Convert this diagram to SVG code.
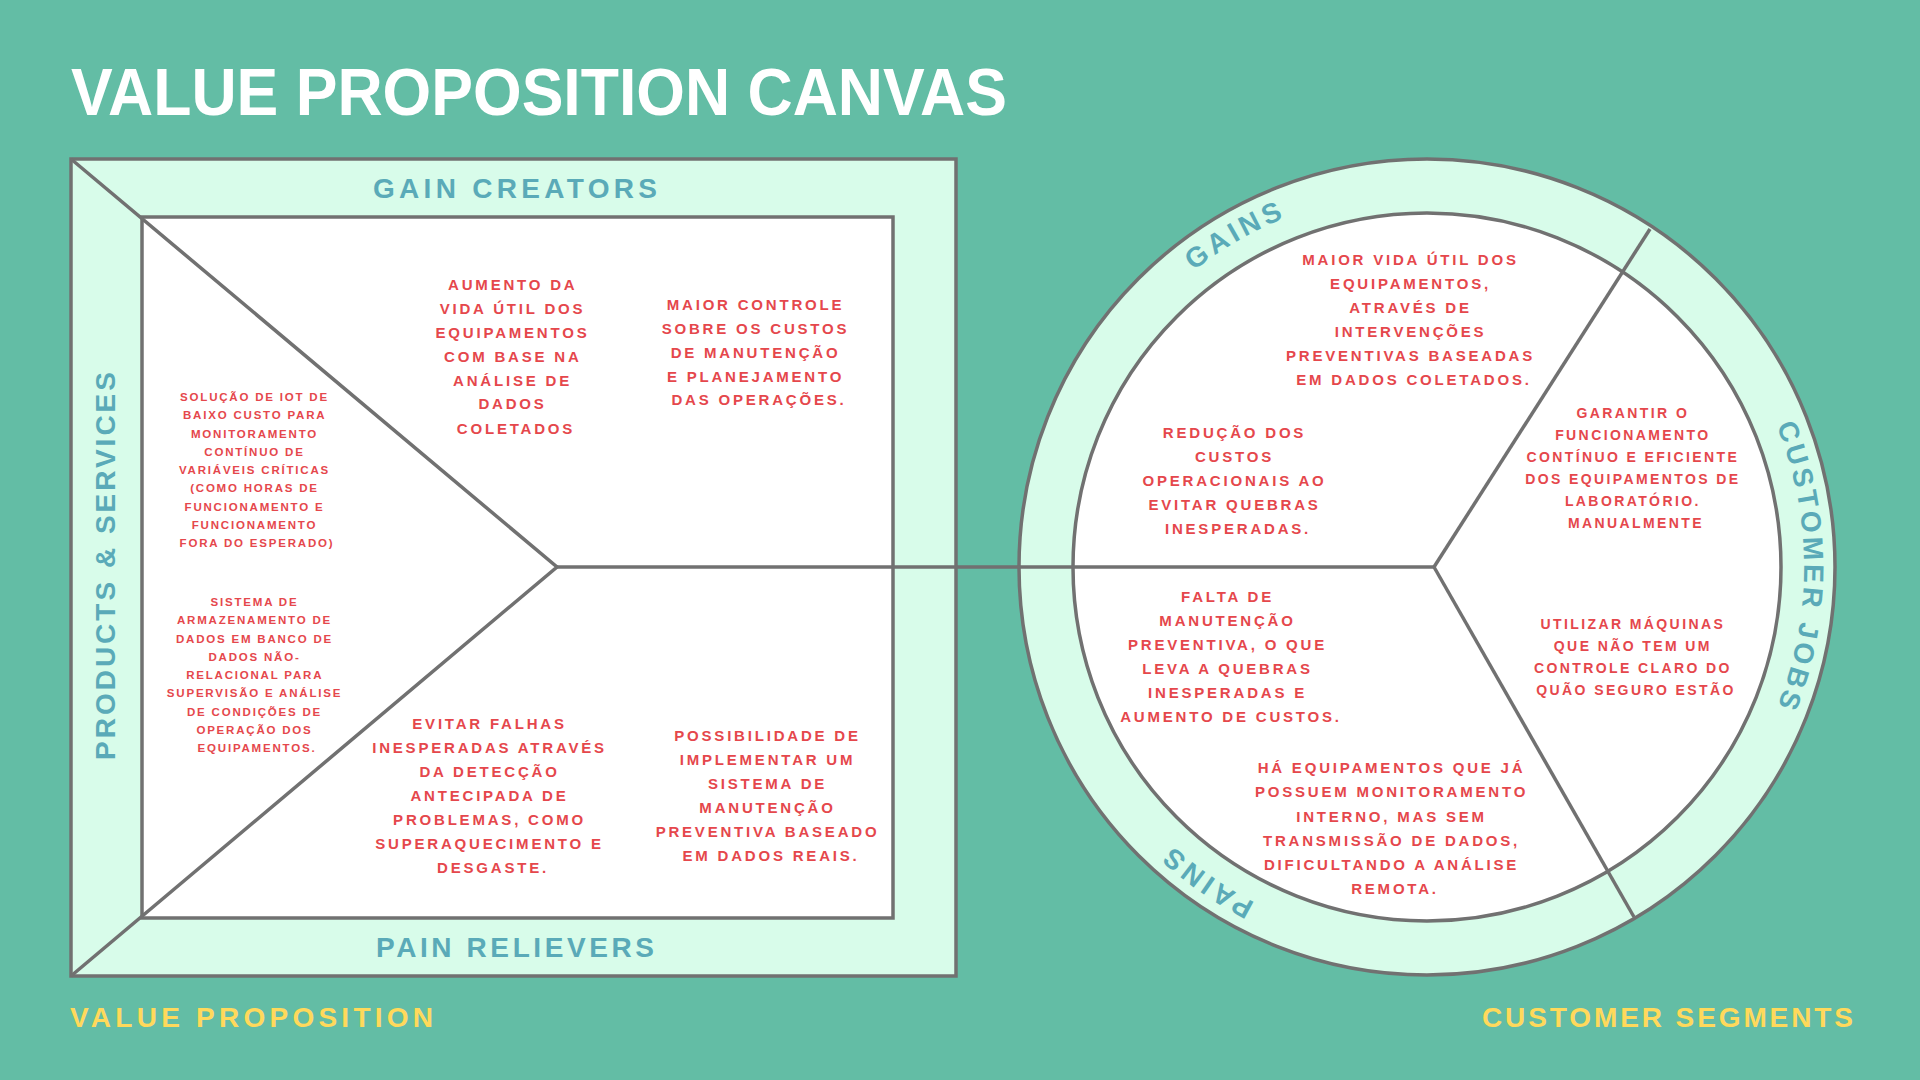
<svg xmlns="http://www.w3.org/2000/svg" width="1920" height="1080" viewBox="0 0 1920 1080">
<style>
.ln{fill:none;stroke:#717171;stroke-width:3.5}
.band{fill:#D8FCEA;stroke:#717171;stroke-width:3.5}
.inner{fill:#FFFFFF;stroke:#717171;stroke-width:3.5}
.lbl{font-family:"Liberation Sans",Arial,sans-serif;font-weight:bold;fill:#5AAAB8;font-size:28px}
.yel{font-family:"Liberation Sans",Arial,sans-serif;font-weight:bold;fill:#FFD95B;font-size:28px}
.red{font-family:"Liberation Sans",Arial,sans-serif;font-weight:bold;fill:#E5474C;font-size:15px;letter-spacing:2.8px;text-anchor:middle}
.sm{font-size:11.5px;letter-spacing:1.8px}
.md{font-size:14px;letter-spacing:2.4px}
</style>
<defs>
<path id="arcGains" d="M 1050 567 A 377 377 0 0 1 1615.5 240.5"/>
<path id="arcJobs" d="M 1615.5 240.5 A 377 377 0 0 1 1615.5 893.5"/>
<path id="arcPains" d="M 1586.3 908.7 A 377 377 0 0 1 1051.4 534.1"/>
</defs>
<rect x="0" y="0" width="1920" height="1080" fill="#63BDA5"/>

<g id="title">
<text x="71" y="115" font-family="'Liberation Sans',Arial,sans-serif" font-weight="bold" font-size="67" fill="#FFFFFF" textLength="936" lengthAdjust="spacingAndGlyphs">VALUE PROPOSITION CANVAS</text>
</g>

<g id="value-proposition-square">
<rect class="band" x="71" y="159" width="885" height="817"/>
<rect class="inner" x="142" y="217" width="751" height="701"/>
</g>

<g id="circle-customer-segment">
<circle class="band" cx="1427" cy="567" r="408"/>
<circle class="inner" cx="1427" cy="567" r="354"/>
</g>

<g id="connectors">
<polyline class="ln" points="71,159 557,567 71,976"/>
<line class="ln" x1="557" y1="567" x2="1434" y2="567"/>
<line class="ln" x1="1434" y1="567" x2="1650" y2="229"/>
<line class="ln" x1="1434" y1="567" x2="1634" y2="917"/>
</g>

<g id="gain-creators-label">
<text class="lbl" x="373" y="198" textLength="284" lengthAdjust="spacing">GAIN CREATORS</text>
</g>
<g id="pain-relievers-label">
<text class="lbl" x="376" y="957" textLength="278" lengthAdjust="spacing">PAIN RELIEVERS</text>
</g>
<g id="products-services-label">
<text class="lbl" transform="translate(115,760) rotate(-90)" x="0" y="0" font-size="30" textLength="388" lengthAdjust="spacing">PRODUCTS &amp; SERVICES</text>
</g>
<g id="value-proposition-label">
<text class="yel" x="70" y="1027" textLength="363" lengthAdjust="spacing">VALUE PROPOSITION</text>
</g>
<g id="customer-segments-label">
<text class="yel" x="1482" y="1027" textLength="371" lengthAdjust="spacing">CUSTOMER SEGMENTS</text>
</g>

<g id="gains-label">
<text class="lbl" letter-spacing="4"><textPath href="#arcGains" startOffset="50%" text-anchor="middle">GAINS</textPath></text>
</g>
<g id="customer-jobs-label">
<text class="lbl" letter-spacing="3.6"><textPath href="#arcJobs" startOffset="50%" text-anchor="middle">CUSTOMER JOBS</textPath></text>
</g>
<g id="pains-label">
<text class="lbl" letter-spacing="4"><textPath href="#arcPains" startOffset="50%" text-anchor="middle">PAINS</textPath></text>
</g>

<g id="product-iot">
<text class="red sm">
<tspan x="257" y="401">SOLUÇÃO DE IOT DE</tspan>
<tspan x="257" y="419.25">BAIXO CUSTO PARA</tspan>
<tspan x="257" y="437.5">MONITORAMENTO</tspan>
<tspan x="257" y="455.75">CONTÍNUO DE</tspan>
<tspan x="257" y="474">VARIÁVEIS CRÍTICAS</tspan>
<tspan x="257" y="492.25">(COMO HORAS DE</tspan>
<tspan x="257" y="510.5">FUNCIONAMENTO E</tspan>
<tspan x="257" y="528.75">FUNCIONAMENTO</tspan>
<tspan x="257" y="547">FORA DO ESPERADO)</tspan>
</text>
</g>
<g id="product-database">
<text class="red sm">
<tspan x="257" y="606">SISTEMA DE</tspan>
<tspan x="257" y="624.25">ARMAZENAMENTO DE</tspan>
<tspan x="257" y="642.5">DADOS EM BANCO DE</tspan>
<tspan x="257" y="660.75">DADOS NÃO-</tspan>
<tspan x="257" y="679">RELACIONAL PARA</tspan>
<tspan x="257" y="697.25">SUPERVISÃO E ANÁLISE</tspan>
<tspan x="257" y="715.5">DE CONDIÇÕES DE</tspan>
<tspan x="257" y="733.75">OPERAÇÃO DOS</tspan>
<tspan x="257" y="752">EQUIPAMENTOS.</tspan>
</text>
</g>

<g id="gain-creator-1">
<text class="red">
<tspan x="516" y="290">AUMENTO DA</tspan>
<tspan x="516" y="314">VIDA ÚTIL DOS</tspan>
<tspan x="516" y="337.5">EQUIPAMENTOS</tspan>
<tspan x="516" y="361.5">COM BASE NA</tspan>
<tspan x="516" y="385.5">ANÁLISE DE</tspan>
<tspan x="516" y="409">DADOS</tspan>
<tspan x="516" y="433.5">COLETADOS</tspan>
</text>
</g>
<g id="gain-creator-2">
<text class="red">
<tspan x="759" y="310">MAIOR CONTROLE</tspan>
<tspan x="759" y="333.5">SOBRE OS CUSTOS</tspan>
<tspan x="759" y="357.5">DE MANUTENÇÃO</tspan>
<tspan x="759" y="381.5">E PLANEJAMENTO</tspan>
<tspan x="759" y="405">DAS OPERAÇÕES.</tspan>
</text>
</g>
<g id="pain-reliever-1">
<text class="red">
<tspan x="493" y="729">EVITAR FALHAS</tspan>
<tspan x="493" y="752.5">INESPERADAS ATRAVÉS</tspan>
<tspan x="493" y="776.5">DA DETECÇÃO</tspan>
<tspan x="493" y="800.5">ANTECIPADA DE</tspan>
<tspan x="493" y="824.5">PROBLEMAS, COMO</tspan>
<tspan x="493" y="848.5">SUPERAQUECIMENTO E</tspan>
<tspan x="493" y="872.5">DESGASTE.</tspan>
</text>
</g>
<g id="pain-reliever-2">
<text class="red">
<tspan x="771" y="741">POSSIBILIDADE DE</tspan>
<tspan x="771" y="765">IMPLEMENTAR UM</tspan>
<tspan x="771" y="788.5">SISTEMA DE</tspan>
<tspan x="771" y="812.5">MANUTENÇÃO</tspan>
<tspan x="771" y="836.5">PREVENTIVA BASEADO</tspan>
<tspan x="771" y="860.5">EM DADOS REAIS.</tspan>
</text>
</g>

<g id="gain-1">
<text class="red">
<tspan x="1414" y="265">MAIOR VIDA ÚTIL DOS</tspan>
<tspan x="1414" y="289">EQUIPAMENTOS,</tspan>
<tspan x="1414" y="313">ATRAVÉS DE</tspan>
<tspan x="1414" y="337">INTERVENÇÕES</tspan>
<tspan x="1414" y="361">PREVENTIVAS BASEADAS</tspan>
<tspan x="1414" y="385">EM DADOS COLETADOS.</tspan>
</text>
</g>
<g id="gain-2">
<text class="red">
<tspan x="1238" y="438">REDUÇÃO DOS</tspan>
<tspan x="1238" y="462">CUSTOS</tspan>
<tspan x="1238" y="486">OPERACIONAIS AO</tspan>
<tspan x="1238" y="510">EVITAR QUEBRAS</tspan>
<tspan x="1238" y="534">INESPERADAS.</tspan>
</text>
</g>
<g id="job-1">
<text class="red md">
<tspan x="1636" y="418">GARANTIR O</tspan>
<tspan x="1636" y="440">FUNCIONAMENTO</tspan>
<tspan x="1636" y="462">CONTÍNUO E EFICIENTE</tspan>
<tspan x="1636" y="484">DOS EQUIPAMENTOS DE</tspan>
<tspan x="1636" y="506">LABORATÓRIO.</tspan>
<tspan x="1636" y="528">MANUALMENTE</tspan>
</text>
</g>
<g id="job-2">
<text class="red md">
<tspan x="1636" y="629">UTILIZAR MÁQUINAS</tspan>
<tspan x="1636" y="651">QUE NÃO TEM UM</tspan>
<tspan x="1636" y="673">CONTROLE CLARO DO</tspan>
<tspan x="1636" y="695">QUÃO SEGURO ESTÃO</tspan>
</text>
</g>
<g id="pain-1">
<text class="red">
<tspan x="1231" y="602">FALTA DE</tspan>
<tspan x="1231" y="626">MANUTENÇÃO</tspan>
<tspan x="1231" y="650">PREVENTIVA, O QUE</tspan>
<tspan x="1231" y="674">LEVA A QUEBRAS</tspan>
<tspan x="1231" y="698">INESPERADAS E</tspan>
<tspan x="1231" y="722">AUMENTO DE CUSTOS.</tspan>
</text>
</g>
<g id="pain-2">
<text class="red">
<tspan x="1395" y="773">HÁ EQUIPAMENTOS QUE JÁ</tspan>
<tspan x="1395" y="797">POSSUEM MONITORAMENTO</tspan>
<tspan x="1395" y="821.5">INTERNO, MAS SEM</tspan>
<tspan x="1395" y="845.5">TRANSMISSÃO DE DADOS,</tspan>
<tspan x="1395" y="869.5">DIFICULTANDO A ANÁLISE</tspan>
<tspan x="1395" y="893.5">REMOTA.</tspan>
</text>
</g>
</svg>
